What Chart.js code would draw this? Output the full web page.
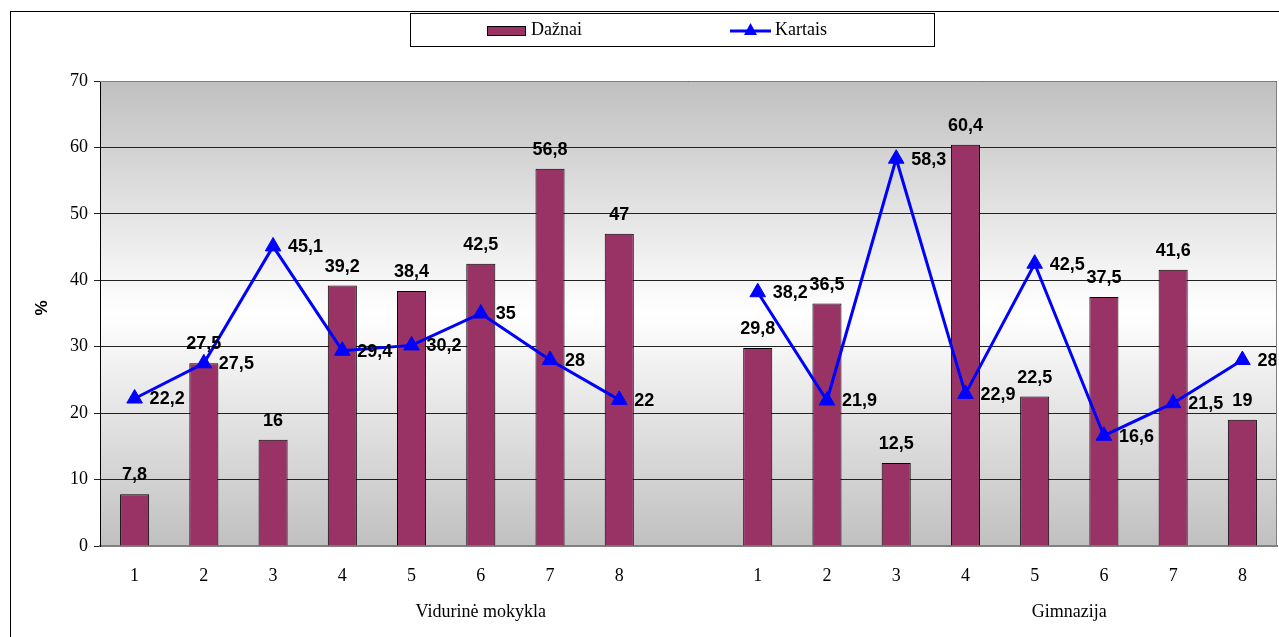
<!DOCTYPE html>
<html>
<head>
<meta charset="utf-8">
<script src="https://cdn.jsdelivr.net/npm/chart.js@4"></script>
<style>
  html, body { margin: 0; padding: 0; background: #fff; overflow: hidden; }
  canvas { display: block; }
</style>
</head>
<body>
<canvas id="myChart" width="1279" height="637"></canvas>
<script>
// data (empty slot separates the two schools)
const categories = ['1', '2', '3', '4', '5', '6', '7', '8', '', '1', '2', '3', '4', '5', '6', '7', '8'];
const daznai = [7.8, 27.5, 16, 39.2, 38.4, 42.5, 56.8, 47, null, 29.8, 36.5, 12.5, 60.4, 22.5, 37.5, 41.6, 19];
const kartais = [22.2, 27.5, 45.1, 29.4, 30.2, 35, 28, 22, null, 38.2, 21.9, 58.3, 22.9, 42.5, 16.6, 21.5, 28];
const groupLabels = ['Vidurinė mokykla', 'Gimnazija'];
const yTicks = [0, 10, 20, 30, 40, 50, 60, 70];

const serif = '"Liberation Serif", "Times New Roman", serif';
const sans = '"Liberation Sans", Arial, sans-serif';

function fmt(v) {
    return String(v).replace('.', ',');
}

// gray-white-gray plot background
const plotBackground = {
    id: 'plotBackground',
    beforeDraw(chart) {
        const { ctx, chartArea: a } = chart;
        const g = ctx.createLinearGradient(0, a.top, 0, a.bottom);
        g.addColorStop(0, '#c0c0c0');
        g.addColorStop(0.5, '#ffffff');
        g.addColorStop(1, '#c0c0c0');
        ctx.save();
        ctx.fillStyle = g;
        ctx.fillRect(a.left, a.top, a.right - a.left, a.bottom - a.top);
        ctx.restore();
    },
    afterDraw(chart) {
        const { ctx, chartArea: a } = chart;
        ctx.save();
        // plot border (top, right)
        ctx.strokeStyle = '#808080';
        ctx.lineWidth = 1;
        ctx.beginPath();
        ctx.moveTo(a.left, a.top + 0.5);
        ctx.lineTo(a.right - 0.5, a.top + 0.5);
        ctx.lineTo(a.right - 0.5, a.bottom);
        ctx.stroke();
        // outer frame
        ctx.strokeStyle = '#000';
        ctx.strokeRect(10.5, 11.5, 1300, 700);
        ctx.restore();
    }
};

// value labels, group labels, axis title and legend box
const extras = {
    id: 'extras',
    afterDatasetsDraw(chart) {
        const { ctx } = chart;
        ctx.save();
        ctx.fillStyle = '#000';
        ctx.font = 'bold 18px ' + sans;
        // bar labels
        chart.getDatasetMeta(0).data.forEach((el, i) => {
            if (daznai[i] == null) return;
            ctx.textAlign = 'center';
            ctx.textBaseline = 'bottom';
            ctx.fillText(fmt(daznai[i]), el.x, el.y - 10);
        });
        // line labels
        chart.getDatasetMeta(1).data.forEach((el, i) => {
            if (kartais[i] == null) return;
            ctx.textAlign = 'left';
            ctx.textBaseline = 'middle';
            ctx.fillText(fmt(kartais[i]), el.x + 15, el.y + 1);
        });
        ctx.restore();
    },
    afterDraw(chart) {
        const { ctx } = chart;
        const x = chart.scales.x;
        ctx.save();
        ctx.fillStyle = '#000';
        ctx.font = '18px ' + serif;
        ctx.textAlign = 'center';
        ctx.textBaseline = 'middle';
        ctx.fillText(groupLabels[0], x.getPixelForValue(5), 612);
        ctx.fillText(groupLabels[1], (x.getPixelForValue(13) + x.getPixelForValue(14)) / 2, 612);

        // y title
        ctx.save();
        ctx.translate(42, 308);
        ctx.rotate(-Math.PI / 2);
        ctx.font = 'bold 17px ' + sans;
        ctx.fillText('%', 0, 0);
        ctx.restore();

        // legend box
        ctx.strokeStyle = '#000';
        ctx.lineWidth = 1;
        ctx.strokeRect(410.5, 13.5, 524, 33);
        const ds = chart.data.datasets;
        ctx.fillStyle = ds[0].backgroundColor;
        ctx.fillRect(487, 26, 38, 9);
        ctx.strokeRect(487.5, 26.5, 38, 9);
        ctx.strokeStyle = ds[1].borderColor;
        ctx.lineWidth = 3;
        ctx.beginPath();
        ctx.moveTo(730, 31);
        ctx.lineTo(771, 31);
        ctx.stroke();
        ctx.fillStyle = ds[1].borderColor;
        ctx.beginPath();
        ctx.moveTo(750.5, 23);
        ctx.lineTo(757, 35);
        ctx.lineTo(744, 35);
        ctx.closePath();
        ctx.fill();
        ctx.fillStyle = '#000';
        ctx.font = '18px ' + serif;
        ctx.textAlign = 'left';
        ctx.fillText(ds[0].label, 531, 30);
        ctx.fillText(ds[1].label, 775, 30);
        ctx.restore();
    }
};

document.addEventListener('DOMContentLoaded', function () {
    const ctx = document.getElementById('myChart').getContext('2d');

    const myChart = new Chart(ctx, {
        data: {
            labels: categories,
            datasets: [{
                type: 'bar',
                label: 'Dažnai',
                data: daznai,
                backgroundColor: '#993366',
                borderColor: '#000000',
                borderWidth: 1,
                categoryPercentage: 1,
                barPercentage: 0.42,
                order: 2
            }, {
                type: 'line',
                label: 'Kartais',
                data: kartais,
                borderColor: '#0000ff',
                backgroundColor: '#0000ff',
                borderWidth: 3,
                pointStyle: 'triangle',
                pointRadius: 9,
                pointHoverRadius: 9,
                pointBorderWidth: 1,
                spanGaps: false,
                tension: 0,
                clip: false,
                order: 1
            }]
        },
        options: {
            responsive: false,
            animation: false,
            layout: {
                autoPadding: false,
                padding: { top: 81, right: 2, left: 0, bottom: 0 }
            },
            plugins: {
                legend: { display: false },
                tooltip: { enabled: false }
            },
            scales: {
                x: {
                    grid: { display: false },
                    border: { display: true, color: '#808080', width: 2 },
                    ticks: {
                        color: '#000',
                        font: { family: serif, size: 18 },
                        padding: 11,
                        maxRotation: 0,
                        autoSkip: false
                    },
                    afterFit(scale) {
                        scale.height = 91;
                        scale.paddingLeft = 0;
                        scale.paddingRight = 0;
                    }
                },
                y: {
                    min: 0,
                    max: 70,
                    afterBuildTicks(scale) {
                        scale.ticks = yTicks.map(v => ({ value: v }));
                    },
                    grid: {
                        color: '#222',
                        lineWidth: 1,
                        tickLength: 6,
                        drawTicks: true
                    },
                    border: { display: true, color: '#000', width: 1 },
                    ticks: {
                        color: '#000',
                        font: { family: serif, size: 18 },
                        padding: 6
                    },
                    afterFit(scale) {
                        scale.width = 100;
                    }
                }
            }
        },
        plugins: [plotBackground, extras]
    });
});
</script>
</body>
</html>
